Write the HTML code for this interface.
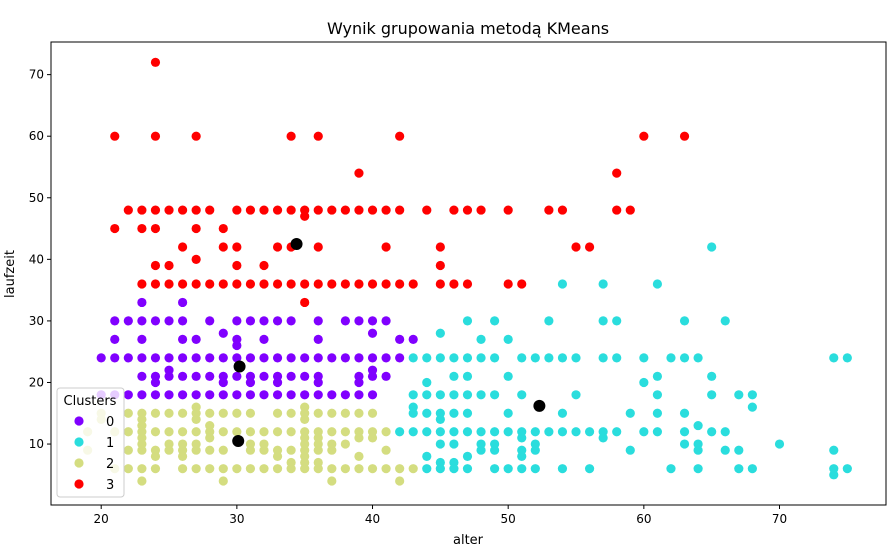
<!DOCTYPE html>
<html><head><meta charset="utf-8"><style>
body{margin:0;background:#fff;}
svg text{font-family:"DejaVu Sans","Liberation Sans",sans-serif;}
</style></head><body>
<svg id="chart" width="894" height="551" viewBox="0 0 894 551" xmlns="http://www.w3.org/2000/svg">
<rect x="0" y="0" width="894" height="551" fill="#fff"/>
<text x="468" y="34" font-size="16" text-anchor="middle">Wynik grupowania metodą KMeans</text>
<g id="marks"></g>
<rect x="51" y="42" width="835" height="463" fill="none" stroke="#000" stroke-width="1"/>
<g id="axes"></g>
<text x="468" y="544" font-size="13" text-anchor="middle">alter</text>
<text transform="translate(14,274) rotate(-90)" font-size="13" text-anchor="middle">laufzeit</text>
<g id="legend"></g>
</svg>
<script>
const xTicks=[20,30,40,50,60,70];
const yTicks=[10,20,30,40,50,60,70];
const clusterLabels=["0","1","2","3"];
const clusterColors=["#8000ff","#2adddd","#d4dd80","#ff0000"];
// rows: [laufzeit, [ages...]]
const cluster0=[[33,[23,26]],[30,[21,22,23,24,25,26,28,30,31,32,33,34,36,38,39,40,41]],[28,[29,40]],[27,[21,23,26,27,30,32,36,42,43]],[26,[30]],
[24,[20,21,22,23,24,25,26,27,28,29,30,31,32,33,34,35,36,37,38,39,40,41,42]],[22,[25,40]],
[21,[23,24,25,26,27,28,29,30,31,32,33,34,35,36,39,40,41]],[20,[24,29,31,33,36,39]],
[18,[20,21,22,23,24,25,26,27,28,29,30,31,32,33,34,35,36,37,38,39,40]]];
const cluster1=[[42,[65]],[36,[54,57,61]],[30,[47,49,53,57,58,63,66]],[28,[45]],[27,[48,50]],
[24,[43,44,45,46,47,48,49,51,52,53,54,55,57,58,60,62,63,64,74,75]],[21,[46,47,50,61,65]],[20,[44,60]],
[18,[43,44,45,46,47,48,49,51,55,61,65,67,68]],[16,[43,68]],[15,[43,44,45,46,47,50,54,59,61,63]],[14,[45]],[13,[64]],
[12,[42,43,44,45,46,47,48,49,50,51,52,53,54,55,56,57,58,60,61,63,65,66]],[11,[51,57]],
[10,[45,46,48,49,52,63,64,70]],[9,[48,49,51,52,59,64,66,67,74]],[8,[44,47,51]],[7,[45,46]],
[6,[44,45,46,47,49,50,51,52,54,56,62,64,67,68,74,75]],[5,[74]]];
const cluster2=[[16,[27,35]],[15,[20,22,23,24,25,26,27,28,29,30,31,33,34,35,36,37,38,39,40]],[14,[20,23,27,35]],[13,[23,28]],
[12,[19,21,22,23,24,25,26,27,28,29,30,31,32,33,34,35,36,37,38,39,40,41]],[11,[23,28,35,36,39,40]],
[10,[23,25,26,27,31,32,35,36,37,38]],[9,[19,22,23,24,25,26,27,28,29,31,32,33,34,35,36,37,41]],[8,[24,26,33,35,39]],[7,[34,35,36]],
[6,[21,22,23,24,26,27,28,29,30,31,32,33,34,35,36,37,38,39,40,41,42,43]],[4,[23,29,37,42]]];
const cluster3=[[72,[24]],[60,[21,24,27,34,36,42,60,63]],[54,[39,58]],
[48,[22,23,24,25,26,27,28,30,31,32,33,34,35,36,37,38,39,40,41,42,44,46,47,48,50,53,54,58,59]],[47,[35]],
[45,[21,23,24,27,29]],[42,[26,29,30,33,34,36,41,45,55,56]],[40,[27]],[39,[24,25,30,32,45]],
[36,[23,24,25,26,27,28,29,30,31,32,33,34,35,36,37,38,39,40,41,42,43,45,46,47,50,51]],[33,[35]]];
const centerAlter=[34.4,30.2,30.1,52.3];
const centerLaufzeit=[42.5,22.6,10.5,16.2];

const NS="http://www.w3.org/2000/svg";
const X0=51,X1=886,Y0=505,Y1=42;
const xMin=16.3,xMax=77.85,yMin=0.1,yMax=75.3;
function sx(v){return X0+(v-xMin)/(xMax-xMin)*(X1-X0);}
function sy(v){return Y0-(v-yMin)/(yMax-yMin)*(Y0-Y1);}
function mk(t,a){const e=document.createElementNS(NS,t);for(const k in a)e.setAttribute(k,a[k]);return e;}
const marks=document.getElementById('marks');
[cluster0,cluster1,cluster2,cluster3].forEach((rows,ci)=>{
  rows.forEach(r=>{r[1].forEach(age=>{
    const c=mk('circle',{cx:sx(age),cy:sy(r[0]),r:4.6,fill:clusterColors[ci]});
    
    
    marks.appendChild(c);
  });});
});
centerAlter.forEach((a,i)=>{
  const c=mk('circle',{cx:sx(a),cy:sy(centerLaufzeit[i]),r:6,fill:'#000'});
  
  
  marks.appendChild(c);
});
const axes=document.getElementById('axes');
xTicks.forEach(t=>{
  const x=sx(t);
  const l=mk('line',{x1:x,x2:x,y1:Y0,y2:Y0+4,stroke:'#000'});
  
  
  axes.appendChild(l);
  const tx=mk('text',{x:x,y:Y0+18,'font-size':12,'text-anchor':'middle'});
  
  
  tx.textContent=t;axes.appendChild(tx);
});
yTicks.forEach(t=>{
  const y=sy(t);
  const l=mk('line',{x1:X0-4,x2:X0,y1:y,y2:y,stroke:'#000'});
  
  
  axes.appendChild(l);
  const tx=mk('text',{x:X0-7,y:y+4,'font-size':12,'text-anchor':'end'});
  
  
  tx.textContent=t;axes.appendChild(tx);
});
const lg=document.getElementById('legend');
lg.appendChild(mk('rect',{x:57,y:388,width:67,height:109,rx:3,fill:'#fff','fill-opacity':0.8,stroke:'#ccc'}));
const lt=mk('text',{x:90,y:405,'font-size':13,'text-anchor':'middle'});


lt.textContent='Clusters';lg.appendChild(lt);
clusterLabels.forEach((lab,i)=>{
  const y=421+i*21;
  const c=mk('circle',{cx:79,cy:y,r:4.6,fill:clusterColors[i]});
  
  
  lg.appendChild(c);
  const t=mk('text',{x:106,y:y+5,'font-size':13});
  
  
  t.textContent=lab;lg.appendChild(t);
});
</script>
</body></html>
